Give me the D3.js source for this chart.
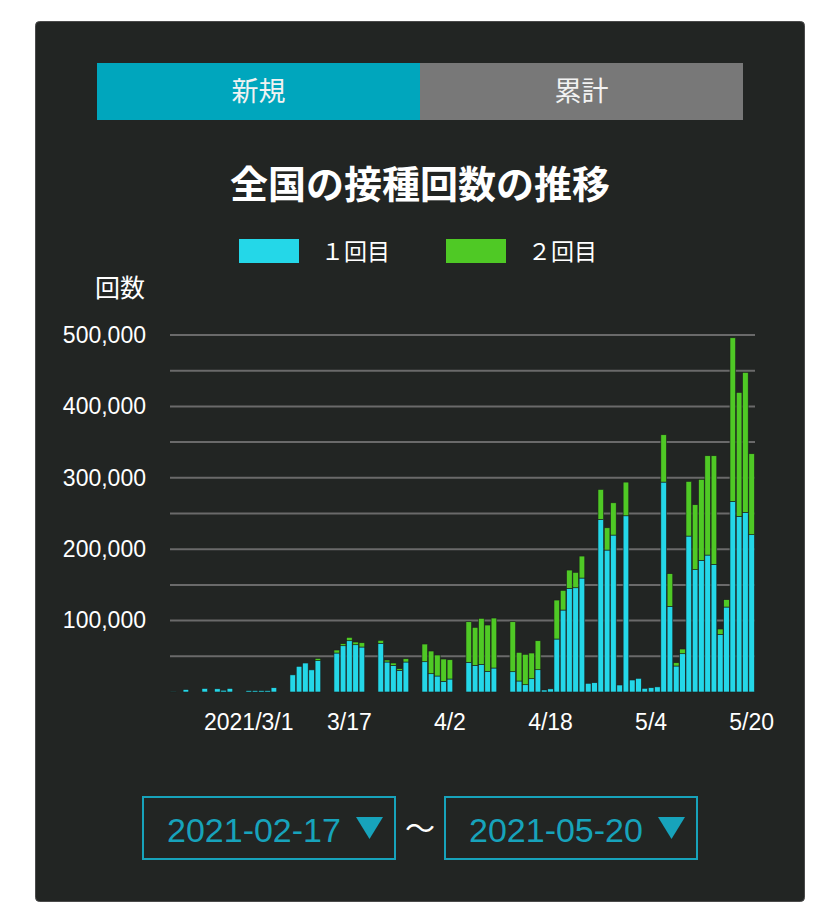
<!DOCTYPE html>
<html>
<head>
<meta charset="utf-8">
<script src="https://cdn.jsdelivr.net/npm/d3@7"></script>
<style>
  html, body { margin: 0; padding: 0; background: #ffffff; }
  svg { display: block; }
</style>
</head>
<body>
<div id="chart"></div>
<script>
// range shown in the selectors
const START_DATE = '2021-02-17';
const END_DATE = '2021-05-20';

// series names
const SERIES = ['１回目', '２回目'];

// daily doses, 2021-02-17 .. 2021-05-20
const FIRST_DOSE = [
	300, 0, 3500, 0, 0, 5000, 0, 4500, 2500, 5000, 0, 0,
	2000, 2000, 2000, 2000, 6000, 0, 0, 24000, 36000, 40600, 31000, 44000, 0, 0,
	54600, 64800, 71800, 66200, 63000, 0, 0, 68200, 42000, 37400, 30400, 42000, 0, 0,
	42400, 25600, 22400, 15000, 18200, 0, 0, 41600, 37400, 38800, 29000, 33600, 0, 0,
	28400, 15400, 10200, 18600, 31200, 2800, 4400, 74200, 114800, 145200, 146000, 159600,
	12200, 13000, 241800, 198800, 219800, 9800, 246800, 16800, 19200, 5200, 6000, 7200,
	294000, 120000, 36400, 53600, 218400, 171300, 184400, 191800, 178800, 80800, 119000,
	267000, 246000, 251600, 220300
];
const SECOND_DOSE = [
	0, 0, 0, 0, 0, 0, 0, 0, 0, 0, 0, 0,
	0, 0, 0, 0, 0, 0, 0, 0, 0, 0, 0, 3000, 0, 0,
	4200, 2800, 4800, 3800, 6000, 0, 0, 4200, 2800, 3200, 2200, 4600, 0, 0,
	24800, 31800, 29400, 31200, 27000, 0, 0, 56800, 53200, 64400, 64800, 70000, 0, 0,
	70000, 40200, 42600, 36000, 40600, 0, 0, 54600, 27600, 25600, 21600, 30800,
	0, 0, 42000, 31200, 45200, 0, 47200, 0, 0, 0, 0, 0,
	66300, 45700, 4600, 6600, 76600, 91000, 113400, 139100, 152100, 7400, 10300,
	229100, 173600, 196000, 113400
];

// axis
const Y_MAX = 500000;
const Y_GRID_STEP = 50000;
const Y_LABEL_STEP = 100000;
const X_TICKS = ['2021-03-01', '2021-03-17', '2021-04-02', '2021-04-18', '2021-05-04', '2021-05-20'];

const COLORS = ['#24d7e8', '#4fc925'];
const W = 840, H = 914;
const PLOT = { LEFT: 170.5, RIGHT: 754.5, TOP: 335, BOTTOM: 692 };
const JP = '"Noto Sans CJK JP", "Noto Sans", sans-serif';
const NUM = '"Liberation Sans", Arial, Helvetica, sans-serif';

var parse = d3.timeParse('%Y-%m-%d');
var key = d3.timeFormat('%Y-%m-%d');
var days = d3.timeDay.range(parse(START_DATE), d3.timeDay.offset(parse(END_DATE), 1)).map(key);

var rows = days.map(function (d, i) {
	return { date: d, first: FIRST_DOSE[i], second: SECOND_DOSE[i] };
});
var stacked = d3.stack().keys(['first', 'second'])(rows);

var svg = d3.select('#chart').append('svg')
	.attr('width', W)
	.attr('height', H);

// panel
svg.append('rect')
	.attr('x', 35.5).attr('y', 21.5)
	.attr('width', 769).attr('height', 880)
	.attr('rx', 4)
	.attr('fill', '#222523')
	.attr('stroke', '#4a4a4a');

// tabs
var tabs = [{ label: '新規', fill: '#00a6bd', x: 97 }, { label: '累計', fill: '#787878', x: 420 }];
svg.selectAll('.tab').data(tabs).enter().append('rect')
	.attr('class', 'tab')
	.attr('x', function (d) { return d.x; })
	.attr('y', 63)
	.attr('width', 323)
	.attr('height', 57)
	.attr('fill', function (d) { return d.fill; });
svg.selectAll('.tabtext').data(tabs).enter().append('text')
	.attr('class', 'tabtext')
	.attr('x', function (d) { return d.x + 161.5; })
	.attr('y', 101)
	.attr('text-anchor', 'middle')
	.attr('font-family', JP)
	.attr('font-size', 27)
	.attr('fill', '#f2f2f2')
	.text(function (d) { return d.label; });

// title
svg.append('text')
	.attr('x', 420).attr('y', 198)
	.attr('text-anchor', 'middle')
	.attr('font-family', JP)
	.attr('font-weight', 'bold')
	.attr('font-size', 38)
	.attr('fill', '#ffffff')
	.text('全国の接種回数の推移');

// legend
var legend = svg.selectAll('.legend').data(SERIES).enter().append('g')
	.attr('class', 'legend')
	.attr('transform', function (d, i) { return 'translate(' + (239 + i * 207) + ',239)'; });
legend.append('rect')
	.attr('width', 60).attr('height', 24)
	.attr('fill', function (d, i) { return COLORS[i]; });
legend.append('text')
	.attr('x', 82).attr('y', 21)
	.attr('font-family', JP)
	.attr('font-size', 23)
	.attr('fill', '#ffffff')
	.text(function (d) { return d; });

// y title
svg.append('text')
	.attr('x', 95).attr('y', 297)
	.attr('font-family', JP)
	.attr('font-size', 25)
	.attr('fill', '#ffffff')
	.text('回数');

var x = d3.scaleBand().domain(days).range([PLOT.LEFT, PLOT.RIGHT]).paddingInner(0.1).paddingOuter(0);
var y = d3.scaleLinear().domain([0, Y_MAX]).range([PLOT.BOTTOM, PLOT.TOP]);

// grid
svg.append('g')
	.selectAll('line')
	.data(d3.range(Y_GRID_STEP, Y_MAX + 1, Y_GRID_STEP))
	.enter().append('line')
	.attr('x1', 170).attr('x2', 755)
	.attr('y1', function (d) { return y(d); })
	.attr('y2', function (d) { return y(d); })
	.attr('stroke', '#6a6a6a')
	.attr('stroke-width', 2);

// y labels
var yAxis = d3.axisLeft(y)
	.tickValues(d3.range(Y_LABEL_STEP, Y_MAX + 1, Y_LABEL_STEP))
	.tickFormat(d3.format(','))
	.tickSize(0)
	.tickPadding(0);
var gy = svg.append('g')
	.attr('transform', 'translate(146,0)')
	.call(yAxis);
gy.select('.domain').remove();
gy.selectAll('text')
	.attr('font-family', NUM)
	.attr('font-size', 23)
	.attr('fill', '#ffffff');

// bars
svg.append('g')
	.selectAll('g')
	.data(stacked)
	.enter().append('g')
	.attr('fill', function (d, i) { return COLORS[i]; })
	.selectAll('rect')
	.data(function (d) { return d.filter(function (p) { return p[1] > p[0]; }); })
	.enter().append('rect')
	.attr('x', function (d) { return x(d.data.date); })
	.attr('y', function (d) { return y(d[1]); })
	.attr('width', x.bandwidth())
	.attr('height', function (d) { return y(d[0]) - y(d[1]); })
	.attr('stroke', '#1c1f1d')
	.attr('stroke-width', 0.6);

// x labels
var xAxis = d3.axisBottom(x)
	.tickValues(X_TICKS)
	.tickFormat(function (d, i) {
		var t = parse(d);
		return (i === 0 ? '2021/' : '') + (t.getMonth() + 1) + '/' + t.getDate();
	})
	.tickSize(0)
	.tickPadding(0);
var gx = svg.append('g')
	.attr('transform', 'translate(0,714)')
	.call(xAxis);
gx.select('.domain').remove();
gx.selectAll('text')
	.attr('dy', '0.71em')
	.attr('font-family', NUM)
	.attr('font-size', 23)
	.attr('fill', '#ffffff');

// date selectors
var pickers = [{ label: START_DATE, x: 142 }, { label: END_DATE, x: 444 }];
var pick = svg.selectAll('.picker').data(pickers).enter().append('g')
	.attr('class', 'picker')
	.attr('transform', function (d) { return 'translate(' + d.x + ',796)'; });
pick.append('rect')
	.attr('x', 1).attr('y', 1)
	.attr('width', 252).attr('height', 62)
	.attr('fill', 'none')
	.attr('stroke', '#17a3bb')
	.attr('stroke-width', 2);
pick.append('text')
	.attr('x', 25).attr('y', 46)
	.attr('font-family', NUM)
	.attr('font-size', 34)
	.attr('fill', '#17a3bb')
	.text(function (d) { return d.label; });
pick.append('path')
	.attr('d', 'M214,21 L241,21 L227.5,43 Z')
	.attr('fill', '#17a3bb');

svg.append('text')
	.attr('x', 420).attr('y', 839)
	.attr('text-anchor', 'middle')
	.attr('font-family', JP)
	.attr('font-size', 30)
	.attr('fill', '#ffffff')
	.text('〜');
</script>
</body>
</html>
